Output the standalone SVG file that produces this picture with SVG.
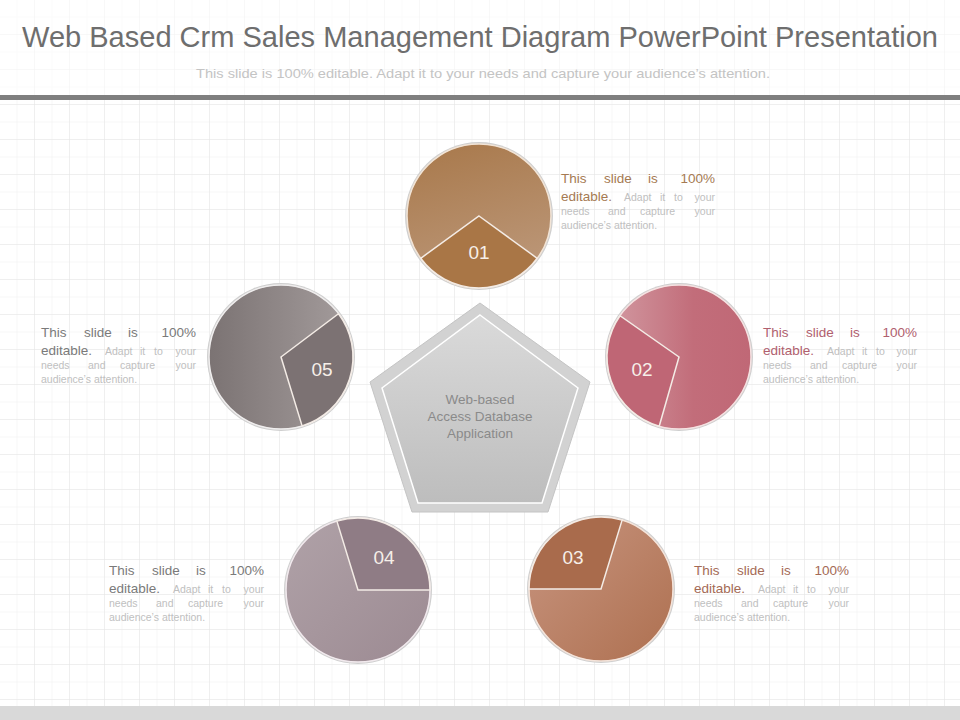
<svg xmlns="http://www.w3.org/2000/svg" width="960" height="720" viewBox="0 0 960 720">
<style>
.title{font-family:"Liberation Sans",Arial,sans-serif;font-size:29px;fill:#6e6e6e}
.sub{font-family:"Liberation Sans",Arial,sans-serif;font-size:13px;fill:#c4c4c4}
.num{font-family:"Liberation Sans",Arial,sans-serif;font-size:19px;fill:#f6efe9;text-anchor:middle}
.big{font-family:"Liberation Sans",Arial,sans-serif;font-size:13.5px}
.sm{font-family:"Liberation Sans",Arial,sans-serif;font-size:10.5px;fill:#c0c0c0}
.e{text-anchor:end}
.ctr{font-family:"Liberation Sans",Arial,sans-serif;font-size:13.5px;fill:#8a8a8a;text-anchor:middle}
.ring{fill:#cfcfcf}
.edge{stroke:#f4ece6;stroke-width:1.5}
</style>
<defs>
<pattern id="g1" width="17.5" height="17.5" patternUnits="userSpaceOnUse">
<path d="M17.5 0V17.5M0 17.5H17.5" fill="none" stroke="#efefef" stroke-width="1"/>
</pattern>
<pattern id="g2" width="35" height="35" patternUnits="userSpaceOnUse">
<path d="M35 0V35M0 35H35" fill="none" stroke="#e6e6e6" stroke-width="1"/>
</pattern>
<linearGradient id="c1" x1="0" y1="0" x2="0.3" y2="1"><stop offset="0" stop-color="#a8784a"/><stop offset="1" stop-color="#bb9677"/></linearGradient>
<linearGradient id="c2" x1="0" y1="0" x2="1" y2="0"><stop offset="0" stop-color="#d29aa2"/><stop offset="0.6" stop-color="#c26d7a"/><stop offset="1" stop-color="#c06876"/></linearGradient>
<linearGradient id="c3" x1="0" y1="0" x2="1" y2="1"><stop offset="0" stop-color="#c89580"/><stop offset="1" stop-color="#ae7050"/></linearGradient>
<linearGradient id="c4" x1="0" y1="0" x2="1" y2="1"><stop offset="0" stop-color="#b0a2a8"/><stop offset="1" stop-color="#9c8a92"/></linearGradient>
<linearGradient id="c5" x1="0" y1="0" x2="1" y2="0"><stop offset="0" stop-color="#7b7373"/><stop offset="1" stop-color="#a59d9d"/></linearGradient>
<linearGradient id="pg" x1="0" y1="0" x2="0" y2="1"><stop offset="0" stop-color="#dadada"/><stop offset="1" stop-color="#bdbdbd"/></linearGradient>
</defs>
<rect width="960" height="720" fill="#ffffff"/>
<rect width="960" height="720" fill="url(#g1)"/>
<rect width="960" height="720" fill="url(#g2)"/>
<rect x="0" y="0" width="960" height="96" fill="#ffffff" opacity="0.55"/>
<rect x="0" y="706" width="960" height="14" fill="#d9d9d9"/>

<text class="title" x="480" y="47" text-anchor="middle" textLength="916" lengthAdjust="spacingAndGlyphs">Web Based Crm Sales Management Diagram PowerPoint Presentation</text>
<text class="sub" x="483" y="78" text-anchor="middle" textLength="574" lengthAdjust="spacingAndGlyphs">This slide is 100% editable. Adapt it to your needs and capture your audience’s attention.</text>
<rect x="0" y="95" width="960" height="5" fill="#7f7f7f"/>

<g id="center">
<polygon points="480,303 590,382 548,512 412,512 370,382" fill="#d2d2d2" stroke="#c4c4c4" stroke-width="1"/>
<polygon points="480,315 578,388 542,503 418,503 382,388" fill="url(#pg)" stroke="#ffffff" stroke-width="1.5"/>
<text class="ctr" x="480" y="404">Web-based</text>
<text class="ctr" x="480" y="421">Access Database</text>
<text class="ctr" x="480" y="438">Application</text>
</g>

<g id="node01">
<circle class="ring" cx="479" cy="216" r="74"/>
<circle cx="479" cy="216" r="72" fill="url(#c1)" stroke="#f2e4d6" stroke-width="1.5"/>
<path class="edge" d="M479,216 L537.2,258.3 A72,72 0 0 1 420.7,258.3 Z" fill="#a97646"/>
<text class="num" x="479" y="259">01</text>
<text y="183"><tspan class="big" fill="#a57a52" x="561">This</tspan><tspan class="big" fill="#a57a52" x="604">slide</tspan><tspan class="big" fill="#a57a52" x="648">is</tspan><tspan class="big e" fill="#a57a52" x="715">100%</tspan></text>
<text y="201"><tspan class="big" fill="#a57a52" x="561">editable.</tspan><tspan class="sm" x="624">Adapt</tspan><tspan class="sm" x="660">it</tspan><tspan class="sm" x="674">to</tspan><tspan class="sm e" x="715">your</tspan></text>
<text y="215"><tspan class="sm" x="561">needs</tspan><tspan class="sm" x="608">and</tspan><tspan class="sm" x="640">capture</tspan><tspan class="sm e" x="715">your</tspan></text>
<text y="229"><tspan class="sm" x="561">audience’s attention.</tspan></text>
</g>

<g id="node02">
<circle class="ring" cx="679" cy="357" r="74"/>
<circle cx="679" cy="357" r="72" fill="url(#c2)" stroke="#f6e2e2" stroke-width="1.5"/>
<path class="edge" d="M679,357 L659.2,426.2 A72,72 0 0 1 620,315.7 Z" fill="#bf6675"/>
<text class="num" x="642" y="376">02</text>
<text y="337"><tspan class="big" fill="#b0606e" x="763">This</tspan><tspan class="big" fill="#b0606e" x="806">slide</tspan><tspan class="big" fill="#b0606e" x="850">is</tspan><tspan class="big e" fill="#b0606e" x="917">100%</tspan></text>
<text y="355"><tspan class="big" fill="#b0606e" x="763">editable.</tspan><tspan class="sm" x="827">Adapt</tspan><tspan class="sm" x="862">it</tspan><tspan class="sm" x="876">to</tspan><tspan class="sm e" x="917">your</tspan></text>
<text y="369"><tspan class="sm" x="763">needs</tspan><tspan class="sm" x="810">and</tspan><tspan class="sm" x="842">capture</tspan><tspan class="sm e" x="917">your</tspan></text>
<text y="383"><tspan class="sm" x="763">audience’s attention.</tspan></text>
</g>

<g id="node03">
<circle class="ring" cx="601" cy="589" r="74"/>
<circle cx="601" cy="589" r="72" fill="url(#c3)" stroke="#f5e4da" stroke-width="1.5"/>
<path class="edge" d="M601,589 L529,589 A72,72 0 0 1 622.1,520.1 Z" fill="#a96b4c"/>
<text class="num" x="573" y="564">03</text>
<text y="575"><tspan class="big" fill="#a46a55" x="694">This</tspan><tspan class="big" fill="#a46a55" x="737">slide</tspan><tspan class="big" fill="#a46a55" x="781">is</tspan><tspan class="big e" fill="#a46a55" x="849">100%</tspan></text>
<text y="593"><tspan class="big" fill="#a46a55" x="694">editable.</tspan><tspan class="sm" x="758">Adapt</tspan><tspan class="sm" x="793">it</tspan><tspan class="sm" x="807">to</tspan><tspan class="sm e" x="849">your</tspan></text>
<text y="607"><tspan class="sm" x="694">needs</tspan><tspan class="sm" x="741">and</tspan><tspan class="sm" x="773">capture</tspan><tspan class="sm e" x="849">your</tspan></text>
<text y="621"><tspan class="sm" x="694">audience’s attention.</tspan></text>
</g>

<g id="node04">
<circle class="ring" cx="358" cy="590" r="74"/>
<circle cx="358" cy="590" r="72" fill="url(#c4)" stroke="#f2eaee" stroke-width="1.5"/>
<path class="edge" d="M358,590 L336.9,521.1 A72,72 0 0 1 430,590 Z" fill="#8f7c85"/>
<text class="num" x="384" y="564">04</text>
<text y="575"><tspan class="big" fill="#7a7a7a" x="109">This</tspan><tspan class="big" fill="#7a7a7a" x="152">slide</tspan><tspan class="big" fill="#7a7a7a" x="196">is</tspan><tspan class="big e" fill="#7a7a7a" x="264">100%</tspan></text>
<text y="593"><tspan class="big" fill="#7a7a7a" x="109">editable.</tspan><tspan class="sm" x="173">Adapt</tspan><tspan class="sm" x="208">it</tspan><tspan class="sm" x="222">to</tspan><tspan class="sm e" x="264">your</tspan></text>
<text y="607"><tspan class="sm" x="109">needs</tspan><tspan class="sm" x="156">and</tspan><tspan class="sm" x="188">capture</tspan><tspan class="sm e" x="264">your</tspan></text>
<text y="621"><tspan class="sm" x="109">audience’s attention.</tspan></text>
</g>

<g id="node05">
<circle class="ring" cx="281" cy="357" r="74"/>
<circle cx="281" cy="357" r="72" fill="url(#c5)" stroke="#f0eeee" stroke-width="1.5"/>
<path class="edge" d="M281,357 L338.5,313.7 A72,72 0 0 1 302.1,425.9 Z" fill="#7c7273"/>
<text class="num" x="322" y="376">05</text>
<text y="337"><tspan class="big" fill="#7a7a7a" x="41">This</tspan><tspan class="big" fill="#7a7a7a" x="84">slide</tspan><tspan class="big" fill="#7a7a7a" x="128">is</tspan><tspan class="big e" fill="#7a7a7a" x="196">100%</tspan></text>
<text y="355"><tspan class="big" fill="#7a7a7a" x="41">editable.</tspan><tspan class="sm" x="105">Adapt</tspan><tspan class="sm" x="140">it</tspan><tspan class="sm" x="154">to</tspan><tspan class="sm e" x="196">your</tspan></text>
<text y="369"><tspan class="sm" x="41">needs</tspan><tspan class="sm" x="88">and</tspan><tspan class="sm" x="120">capture</tspan><tspan class="sm e" x="196">your</tspan></text>
<text y="383"><tspan class="sm" x="41">audience’s attention.</tspan></text>
</g>

<g id="connectors"></g>
</svg>
